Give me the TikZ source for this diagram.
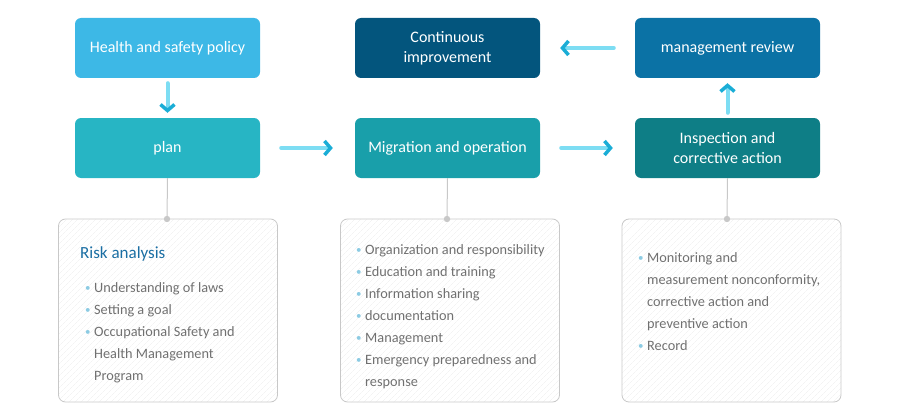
\documentclass[tikz,border=0pt]{standalone}
\usepackage{fontspec}
\setmainfont{Carlito}
\usepackage{xcolor}
\usetikzlibrary{positioning,arrows.meta,patterns.meta}

\definecolor{hscol}{HTML}{3DB8E6}
\definecolor{plancol}{HTML}{27B5C4}
\definecolor{migcol}{HTML}{199FAA}
\definecolor{contcol}{HTML}{03557D}
\definecolor{revcol}{HTML}{0B72A5}
\definecolor{inspcol}{HTML}{0E7E86}
\definecolor{shaftcol}{HTML}{7DDDF3}
\definecolor{tipcol}{HTML}{1AADD6}
\definecolor{linkcol}{HTML}{C8C8C8}
\definecolor{textcol}{HTML}{707070}
\definecolor{titlecol}{HTML}{1A6EA3}
\definecolor{bulcol}{HTML}{8CCBE3}

\newcommand{\bul}{\textcolor{bulcol}{\raisebox{.2ex}{\fontsize{11}{11}\selectfont\textbullet}}}

\tikzset{
  stagebox/.style={rectangle,rounded corners=6pt,minimum width=185pt,minimum height=60pt,
    text=white,align=center,font=\fontsize{16}{20}\selectfont,inner sep=0pt},
  notebox/.style={rectangle,rounded corners=7pt,draw=linkcol,line width=0.8pt,
    minimum width=219pt,minimum height=183pt,inner sep=0pt,
    pattern={Lines[angle=45,distance=4pt,line width=0.4pt]},pattern color=black!7},
  flow/.style={draw=shaftcol,line width=4pt,line cap=round,
    -{Straight Barb[color=tipcol,length=6pt,width=14pt,line width=3.5pt]}},
  link/.style={draw=linkcol,line width=1pt},
  notelist/.style={anchor=north west,inner sep=0pt,text=textcol},
}

\begin{document}
\begin{tikzpicture}[x=1pt,y=-1pt]
  \useasboundingbox (0,0) rectangle (900,420);
  \begin{scope}
    \node[stagebox,fill=hscol]   (policy) at (167.5,48)  {Health and safety policy};
    \node[stagebox,fill=plancol] (plan)   at (167.5,148) {plan};
    \node[stagebox,fill=migcol]  (mig)    at (447.5,148) {Migration and operation};
    \node[stagebox,fill=contcol] (cont)   at (447.5,48)  {Continuous\\improvement};
    \node[stagebox,fill=revcol]  (review) at (727.5,48)  {management review};
    \node[stagebox,fill=inspcol] (insp)   at (727.5,148) {Inspection and\\corrective action};
  \end{scope}

  \begin{scope}
    \node[notebox] (plannote) at (168,310.5) {};
    \node[notebox] (mignote)  at (450,310.5) {};
    \node[notebox] (inspnote) at (731.5,310.5) {};
  \end{scope}

  % arrows between stages
  \draw[flow,shorten <=5pt,shorten >=5pt]   (policy) -- (plan);
  \draw[flow,shorten <=21pt,shorten >=22pt] (plan) -- (mig);
  \draw[flow,shorten <=21pt,shorten >=22pt] (mig) -- (insp);
  \draw[flow,shorten <=5pt,shorten >=5pt]   (insp) -- (review);
  \draw[flow,shorten <=21pt,shorten >=20pt] (review) -- (cont);

  % links to the notes
  \coordinate (plandot) at (167,219);
  \coordinate (migdot)  at (447,219);
  \coordinate (inspdot) at (727,219);
  \draw[link] (plan.south) -- (plandot);
  \draw[link] (mig.south) -- (migdot);
  \draw[link] (insp.south) -- (inspdot);
  \fill[linkcol] (plandot) circle (3.2pt) (migdot) circle (3.2pt) (inspdot) circle (3.2pt);

  \node[anchor=west,inner sep=0pt,text=titlecol,font=\fontsize{17}{20}\selectfont]
    (risk) at (80,254) {Risk analysis};
  \node[notelist] (planlist) at (85,277) {\fontsize{14.3}{22}\selectfont
    \begin{tabular}{@{}l@{\hspace{3.5pt}}l@{}}
      \bul & Understanding of laws\\
      \bul & Setting a goal\\
      \bul & Occupational Safety and\\
           & Health Management\\
           & Program
    \end{tabular}};
  \node[notelist] (miglist) at (356,239) {\fontsize{14.3}{22}\selectfont
    \begin{tabular}{@{}l@{\hspace{3.5pt}}l@{}}
      \bul & Organization and responsibility\\
      \bul & Education and training\\
      \bul & Information sharing\\
      \bul & documentation\\
      \bul & Management\\
      \bul & Emergency preparedness and\\
           & response
    \end{tabular}};
  \node[notelist] (insplist) at (638,247) {\fontsize{14.3}{22}\selectfont
    \begin{tabular}{@{}l@{\hspace{3.5pt}}l@{}}
      \bul & Monitoring and\\
           & measurement nonconformity,\\
           & corrective action and\\
           & preventive action\\
      \bul & Record
    \end{tabular}};
\end{tikzpicture}
\end{document}
